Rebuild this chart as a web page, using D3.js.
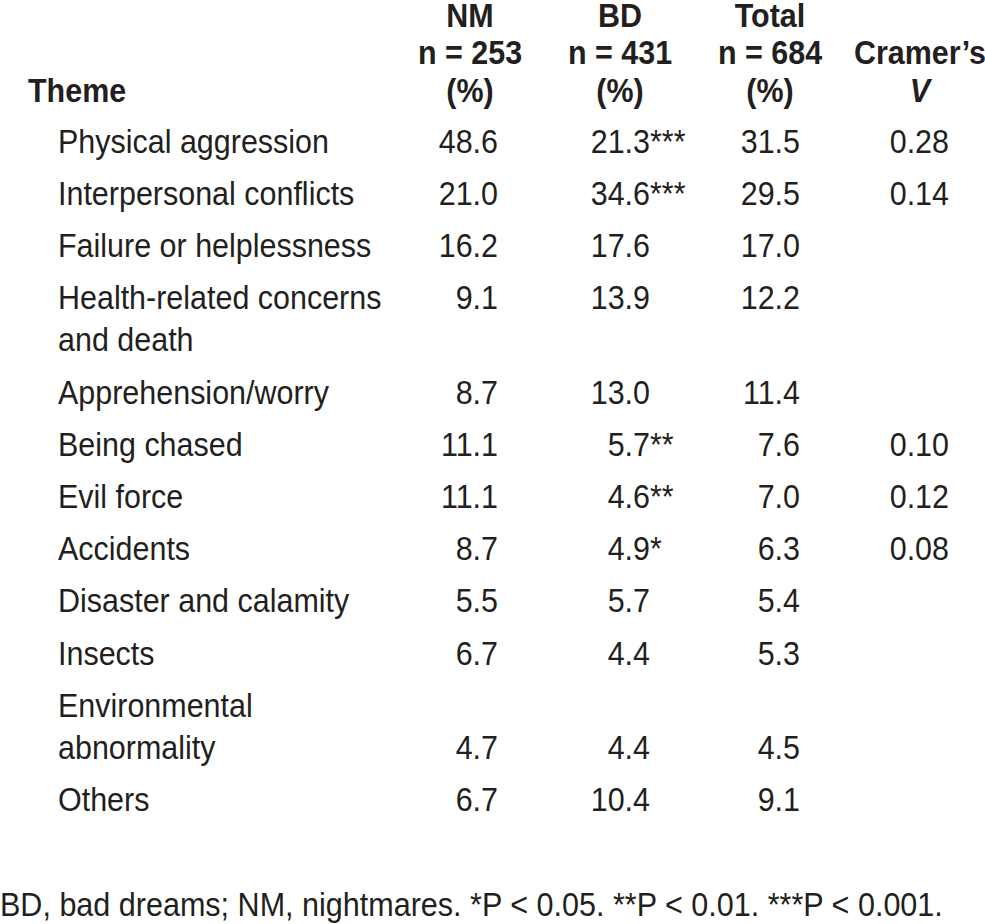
<!DOCTYPE html>
<html><head><meta charset="utf-8">
<script src="https://cdn.jsdelivr.net/npm/d3@7"></script>
<style>body{margin:0;background:#fff}</style>
</head><body>
<svg id="c" width="985" height="924"></svg>
<script>
const themes = [["Physical aggression"],["Interpersonal conflicts"],["Failure or helplessness"],["Health-related concerns","and death"],["Apprehension/worry"],["Being chased"],["Evil force"],["Accidents"],["Disaster and calamity"],["Insects"],["Environmental","abnormality"],["Others"]];
const nm = ["48.6","21.0","16.2","9.1","8.7","11.1","11.1","8.7","5.5","6.7","4.7","6.7"];
const bd = ["21.3","34.6","17.6","13.9","13.0","5.7","4.6","4.9","5.7","4.4","4.4","10.4"];
const bdSig = ["***","***","","","","**","**","*","","","",""];
const total = ["31.5","29.5","17.0","12.2","11.4","7.6","7.0","6.3","5.4","5.3","4.5","9.1"];
const cramer = ["0.28","0.14","","","","0.10","0.12","0.08","","","",""];
const valueLine = [0,0,0,0,0,0,0,0,0,0,1,0];
const headers = [["NM","n = 253","(%)"],["BD","n = 431","(%)"],["Total","n = 684","(%)"],["","Cramer\u2019s","V"]];
const footnote = "BD, bad dreams; NM, nightmares. *P < 0.05. **P < 0.01. ***P < 0.001.";

const svg = d3.select("#c");
const F = "'Liberation Sans',Arial,sans-serif";
const fs = 33.5;
const ink = "#231f20";

function measure(s) {
  const p = svg.append("text").attr("font-family",F).attr("font-size",fs).text(s);
  const w = p.node().getComputedTextLength(); p.remove(); return w;
}
// horizontal condensation matched to the reference's narrow face
const sx = 271 / measure("Physical aggression");
const sxFoot = 943 / measure(footnote);

function put(sel, x, y, s, opts={}) {
  return sel.append("text")
    .attr("transform", `translate(${x},${y}) scale(${opts.sx || sx},1)`)
    .attr("font-family",F).attr("font-size",fs).attr("fill",ink)
    .attr("text-anchor", opts.anchor || "start")
    .attr("font-weight", opts.bold ? "bold" : "normal")
    .attr("font-style", opts.italic ? "italic" : "normal")
    .text(s);
}

const keys = ["NM","BD","Total","V"];
const colCenter = d3.scalePoint().domain(keys).range([470,920]);
const valueRight = d3.scaleOrdinal().domain(keys).range([498,650,800,949]);
const headerY = d3.scalePoint().domain([0,1,2]).range([26.5,101.5]);

const extraBefore = [];
themes.reduce((acc,t)=>{ extraBefore.push(acc); return acc + t.length - 1; }, 0);
const rowY = d3.scaleLinear().domain([0,1]).range([152.7, 152.7+52.2]);
const lineGap = 42;
const baseY = i => rowY(i) + lineGap*extraBefore[i];

put(svg, 28, headerY(2), "Theme", {bold:true});
headers.forEach((h,i)=>{
  h.forEach((s,j)=>{
    if(!s) return;
    put(svg, colCenter(keys[i]), headerY(j), s, {anchor:"middle", bold:true, italic:(i===3&&j===2)});
  });
});

const g = svg.append("g");
themes.forEach((t,i)=>{
  t.forEach((s,j)=> put(g, 58, baseY(i)+lineGap*j, s));
  const vy = baseY(i) + lineGap*valueLine[i];
  put(g, valueRight("NM"), vy, nm[i], {anchor:"end"});
  put(g, valueRight("BD"), vy, bd[i], {anchor:"end"});
  if(bdSig[i]) put(g, valueRight("BD"), vy, bdSig[i]);
  put(g, valueRight("Total"), vy, total[i], {anchor:"end"});
  if(cramer[i]) put(g, valueRight("V"), vy, cramer[i], {anchor:"end"});
});
put(svg, 0, 916, footnote, {sx: sxFoot});
</script>
</body></html>
